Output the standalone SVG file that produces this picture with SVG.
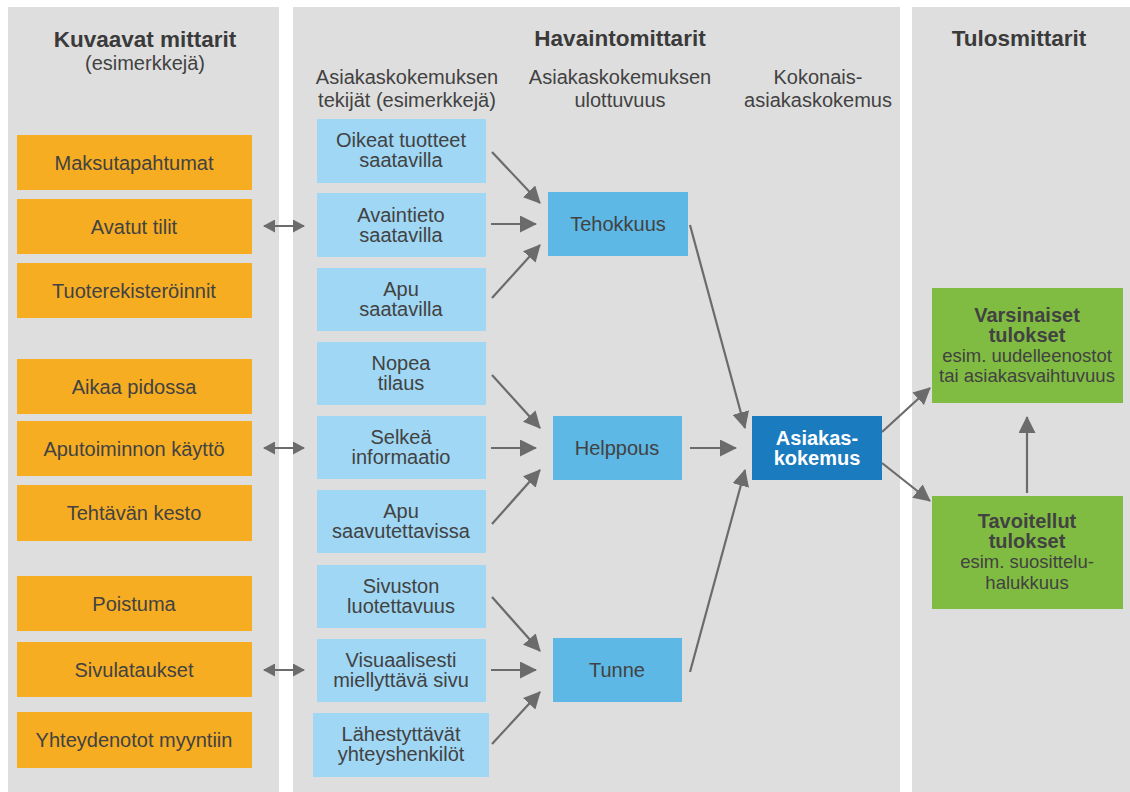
<svg xmlns="http://www.w3.org/2000/svg" width="1130" height="792" viewBox="0 0 1130 792">
<defs>
<style>
text{font-family:"Liberation Sans",Arial,sans-serif;text-anchor:middle;fill:#424242;font-size:20px}
.h{font-weight:bold;font-size:22.5px;fill:#3a3a3a}
.b{font-weight:bold}
.w{fill:#ffffff;font-weight:bold}
.s{font-size:18.5px}
.panel{fill:#dedede}
.or{fill:#f6ad22}
.lb{fill:#9fd7f4}
.mb{fill:#5db8e5}
.db{fill:#1b7bbf}
.gr{fill:#80bc41}
.c line{stroke:#6b6b6b;stroke-width:2.2;fill:none}
.c .d{stroke-width:2;marker-start:url(#sa);marker-end:url(#sa)}
.c .a{marker-end:url(#ah)}
</style>
<marker id="ah" markerUnits="userSpaceOnUse" markerWidth="17" markerHeight="17" refX="16" refY="8.5" orient="auto">
<path d="M0,0 L17,8.5 L0,17 z" fill="#6b6b6b"/>
</marker>
<marker id="sa" markerUnits="userSpaceOnUse" markerWidth="12" markerHeight="13" refX="11" refY="6.5" orient="auto-start-reverse">
<path d="M0,0 L12,6.5 L0,13 z" fill="#6b6b6b"/>
</marker>
</defs>
<rect width="1130" height="792" fill="#ffffff"/>
<g id="panels">
<rect class="panel" x="8" y="7" width="271" height="785"/>
<rect class="panel" x="293" y="7" width="607" height="785"/>
<rect class="panel" x="912" y="7" width="218" height="785"/>
</g>
<g id="headers">
<text class="h" x="145" y="47">Kuvaavat mittarit</text>
<text x="145" y="70">(esimerkkejä)</text>
<text class="h" x="620" y="46">Havaintomittarit</text>
<text class="h" x="1019" y="46">Tulosmittarit</text>
<text x="407" y="84">Asiakaskokemuksen</text>
<text x="407" y="107">tekijät (esimerkkejä)</text>
<text x="620" y="84">Asiakaskokemuksen</text>
<text x="620" y="107">ulottuvuus</text>
<text x="818" y="84">Kokonais-</text>
<text x="818" y="107">asiakaskokemus</text>
</g>
<g id="n-maksu"><rect class="or" x="17" y="135" width="235" height="55"/><text x="134" y="170">Maksutapahtumat</text></g>
<g id="n-avatut"><rect class="or" x="17" y="199" width="235" height="55"/><text x="134" y="234">Avatut tilit</text></g>
<g id="n-tuote"><rect class="or" x="17" y="263" width="235" height="55"/><text x="134" y="298">Tuoterekisteröinnit</text></g>
<g id="n-aikaa"><rect class="or" x="17" y="359" width="235" height="55"/><text x="134" y="394">Aikaa pidossa</text></g>
<g id="n-aputoim"><rect class="or" x="17" y="421" width="235" height="55"/><text x="134" y="456">Aputoiminnon käyttö</text></g>
<g id="n-tehtava"><rect class="or" x="17" y="485" width="235" height="56"/><text x="134" y="520">Tehtävän kesto</text></g>
<g id="n-poistuma"><rect class="or" x="17" y="576" width="235" height="55"/><text x="134" y="611">Poistuma</text></g>
<g id="n-sivulat"><rect class="or" x="17" y="642" width="235" height="55"/><text x="134" y="677">Sivulataukset</text></g>
<g id="n-yhteyd"><rect class="or" x="17" y="712" width="235" height="56"/><text x="134" y="747">Yhteydenotot myyntiin</text></g>

<g id="n-oikeat"><rect class="lb" x="317" y="119" width="169" height="64"/><text x="401" y="147">Oikeat tuotteet</text><text x="401" y="167">saatavilla</text></g>
<g id="n-avaintieto"><rect class="lb" x="317" y="193" width="169" height="64"/><text x="401" y="222">Avaintieto</text><text x="401" y="242">saatavilla</text></g>
<g id="n-apu"><rect class="lb" x="317" y="268" width="169" height="63"/><text x="401" y="296">Apu</text><text x="401" y="316">saatavilla</text></g>
<g id="n-nopea"><rect class="lb" x="317" y="342" width="169" height="63"/><text x="401" y="370">Nopea</text><text x="401" y="390">tilaus</text></g>
<g id="n-selkea"><rect class="lb" x="317" y="416" width="169" height="63"/><text x="401" y="444">Selkeä</text><text x="401" y="464">informaatio</text></g>
<g id="n-apusaav"><rect class="lb" x="317" y="490" width="169" height="63"/><text x="401" y="518">Apu</text><text x="401" y="538">saavutettavissa</text></g>
<g id="n-sivuston"><rect class="lb" x="317" y="565" width="169" height="63"/><text x="401" y="593">Sivuston</text><text x="401" y="613">luotettavuus</text></g>
<g id="n-visuaal"><rect class="lb" x="317" y="639" width="169" height="63"/><text x="401" y="667">Visuaalisesti</text><text x="401" y="687">miellyttävä sivu</text></g>
<g id="n-lahest"><rect class="lb" x="313" y="713" width="176" height="64"/><text x="401" y="741">Lähestyttävät</text><text x="401" y="761">yhteyshenkilöt</text></g>

<g id="n-tehokkuus"><rect class="mb" x="548" y="192" width="140" height="64"/><text x="618" y="231">Tehokkuus</text></g>
<g id="n-helppous"><rect class="mb" x="553" y="416" width="129" height="64"/><text x="617" y="455">Helppous</text></g>
<g id="n-tunne"><rect class="mb" x="553" y="638" width="129" height="64"/><text x="617" y="677">Tunne</text></g>

<g id="n-asiakas"><rect class="db" x="752" y="416" width="130" height="64"/><text class="w" x="817" y="445">Asiakas-</text><text class="w" x="817" y="465">kokemus</text></g>

<g id="n-varsinaiset"><rect class="gr" x="932" y="288" width="191" height="115"/><text class="b" x="1027" y="322">Varsinaiset</text><text class="b" x="1027" y="342">tulokset</text><text class="s" x="1027" y="362">esim. uudelleenostot</text><text class="s" x="1027" y="382">tai asiakasvaihtuvuus</text></g>
<g id="n-tavoitellut"><rect class="gr" x="932" y="496" width="191" height="113"/><text class="b" x="1027" y="528">Tavoitellut</text><text class="b" x="1027" y="548">tulokset</text><text class="s" x="1027" y="568">esim. suosittelu-</text><text class="s" x="1027" y="589">halukkuus</text></g>

<g id="connectors" class="c">
<line class="d" x1="264" y1="226" x2="304" y2="226"/>
<line class="d" x1="264" y1="448" x2="304" y2="448"/>
<line class="d" x1="264" y1="670" x2="304" y2="670"/>
<line class="a" x1="492" y1="152" x2="540" y2="203"/>
<line class="a" x1="491" y1="224" x2="536" y2="224"/>
<line class="a" x1="492" y1="298" x2="540" y2="245"/>
<line class="a" x1="492" y1="375" x2="540" y2="428"/>
<line class="a" x1="491" y1="448" x2="536" y2="448"/>
<line class="a" x1="492" y1="524" x2="540" y2="470"/>
<line class="a" x1="492" y1="597" x2="540" y2="651"/>
<line class="a" x1="491" y1="670" x2="536" y2="670"/>
<line class="a" x1="492" y1="744" x2="540" y2="692"/>
<line class="a" x1="690" y1="225" x2="745" y2="428"/>
<line class="a" x1="690" y1="448" x2="736" y2="448"/>
<line class="a" x1="690" y1="672" x2="745" y2="470"/>
<line class="a" x1="882" y1="432" x2="930" y2="388"/>
<line class="a" x1="882" y1="463" x2="930" y2="501"/>
<line class="a" x1="1027" y1="493" x2="1027" y2="417"/>
</g>
</svg>
